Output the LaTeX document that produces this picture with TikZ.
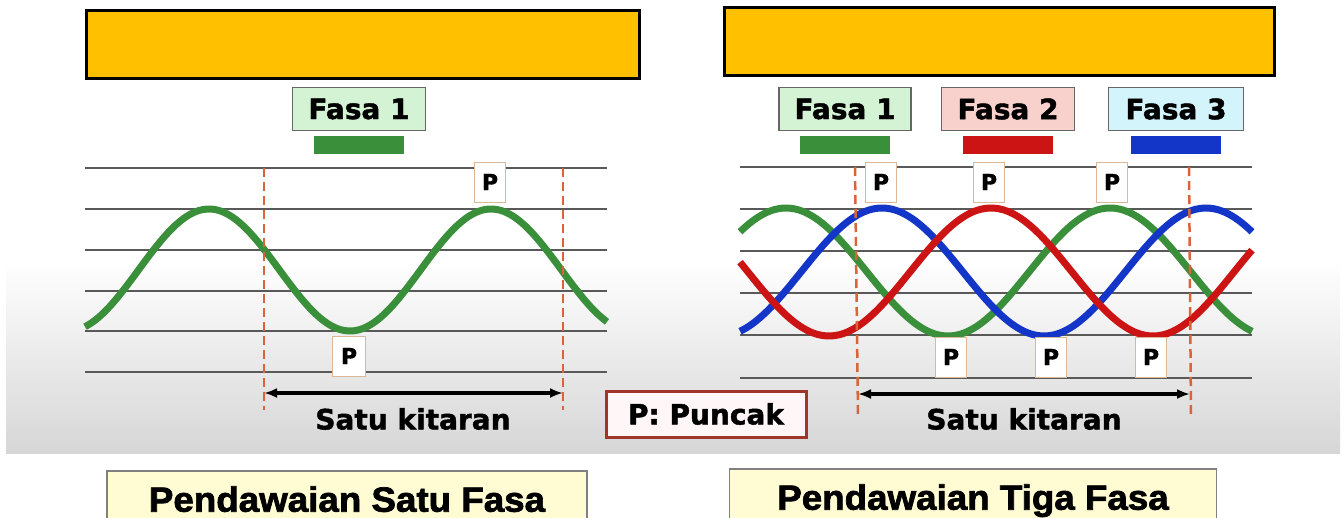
\documentclass[tikz,border=0pt]{standalone}
\usepackage{fontspec}
\setmainfont{DejaVu Sans}[BoldFeatures={FakeBold=1.6}]
\newfontfamily\labelfont{Liberation Sans}[FakeStretch=1.05, BoldFeatures={FakeBold=2}]
\usetikzlibrary{positioning,arrows.meta}

\definecolor{bannerorange}{HTML}{FFC000}
\definecolor{fasagreen}{HTML}{D4F2D4}
\definecolor{fasared}{HTML}{F8D0CC}
\definecolor{fasablue}{HTML}{D2F4FA}
\definecolor{wavegreen}{HTML}{3A8F3A}
\definecolor{wavered}{HTML}{CC1414}
\definecolor{waveblue}{HTML}{1436C8}
\definecolor{cycleorange}{HTML}{D9643A}
\definecolor{puncakred}{HTML}{A0352A}
\definecolor{labelyellow}{HTML}{FFFBD2}

\tikzset{
  banner/.style={draw=black, line width=3pt, fill=bannerorange, inner sep=0pt},
  fasabox/.style={draw=black!60, line width=1.5pt, minimum width=133pt, minimum height=43pt,
    inner sep=0pt, font=\fontsize{28}{30}\selectfont\bfseries},
  colourbar/.style={minimum width=90pt, minimum height=18pt, inner sep=0pt},
  peakbox/.style={draw=brown!55, fill=white, line width=1pt, minimum width=31pt,
    minimum height=40pt, inner sep=0pt, font=\fontsize{22}{22}\selectfont\bfseries},
  gridline/.style={black!65, line width=1.5pt},
  cycleline/.style={cycleorange, line width=2.5pt, dash pattern=on 9pt off 5pt},
  wave/.style={line width=7pt},
  cyclearrow/.style={{Latex[length=13pt,width=10pt]}-{Latex[length=13pt,width=10pt]}, line width=3.5pt},
  kitaran/.style={font=\fontsize{28}{30}\selectfont\bfseries},
  namebox/.style={draw=black!50, line width=1.5pt, fill=labelyellow, minimum height=56pt,
    inner sep=0pt, text depth=0pt, font=\labelfont\fontsize{35}{36}\selectfont\bfseries}
}

\begin{document}
\begin{tikzpicture}[x=1pt, y=-1pt]
\useasboundingbox (0,0) rectangle (1343,517);

\shade[top color=white, bottom color=black!16] (6,260) rectangle (1340,453);

\node[banner, minimum width=553pt, minimum height=68pt] (bannerL) at (363,44) {};
\node[banner, minimum width=550pt, minimum height=68pt] (bannerR) at (999,41) {};

\node[fasabox, fill=fasagreen] (fasaL) at (359,109) {Fasa 1};
\node[colourbar, fill=wavegreen, below=5pt of fasaL] (barL) {};

\node[fasabox, fill=fasagreen, minimum width=132pt] (fasa1) at (845,109) {Fasa 1};
\node[fasabox, fill=fasared] (fasa2) at (1008,109) {Fasa 2};
\node[fasabox, fill=fasablue, minimum width=135pt] (fasa3) at (1176,109) {Fasa 3};
\node[colourbar, fill=wavegreen, below=5pt of fasa1] (bar1) {};
\node[colourbar, fill=wavered, below=5pt of fasa2] (bar2) {};
\node[colourbar, fill=waveblue, below=5pt of fasa3] (bar3) {};

\foreach \y in {168,209,250,291,331,372}
  \draw[gridline] (85,\y) -- (607,\y);
\foreach \y in {167,209,251,293,335,378}
  \draw[gridline] (740,\y) -- (1252,\y);

\draw[wave, wavegreen] plot[domain=85:607, samples=120, smooth] (\x, {270-61*cos((\x-209)/282*360)});

\draw[wave, wavegreen] plot[domain=740:1252, samples=120, smooth] (\x, {272-64*cos((\x-786)/324*360)});
\draw[wave, waveblue] plot[domain=740:1252, samples=120, smooth] (\x, {272-64*cos((\x-882)/324*360)});
\draw[wave, wavered] plot[domain=740:1252, samples=120, smooth] (\x, {272-64*cos((\x-991)/324*360)});

\draw[cycleline] (264,168) -- (264,410);
\draw[cycleline] (563,168) -- (563,410);
\draw[cycleline] (855,167) -- (858,416);
\draw[cycleline] (1189,167) -- (1191,416);

\node[peakbox] (pL1) at (490,182) {P};
\node[peakbox, minimum width=33pt] (pL2) at (349,356) {P};

\node[peakbox] (pR1) at (881,182) {P};
\node[peakbox] (pR2) at (989,182) {P};
\node[peakbox] (pR3) at (1112,182) {P};
\node[peakbox] (pR4) at (951,357) {P};
\node[peakbox] (pR5) at (1051,357) {P};
\node[peakbox] (pR6) at (1151,357) {P};

\coordinate (cycL1) at (264,393);
\coordinate (cycL2) at (563,393);
\coordinate (cycR1) at (858,394);
\coordinate (cycR2) at (1190,394);
\draw[cyclearrow] (cycL1) -- (cycL2);
\draw[cyclearrow] (cycR1) -- (cycR2);

\node[kitaran] (kitL) at (413,419) {Satu kitaran};
\node[kitaran] (kitR) at (1024,419) {Satu kitaran};

\node[draw=puncakred, line width=3pt, fill=red!3, minimum width=200pt, minimum height=46pt,
  inner sep=0pt, font=\fontsize{28}{30}\selectfont\bfseries] (puncak) at (706,414) {P: Puncak};

\node[namebox, minimum width=480pt] (nameL) at (347,499) {Pendawaian Satu Fasa};
\node[namebox, minimum width=487pt] (nameR) at (973,497) {Pendawaian Tiga Fasa};
\end{tikzpicture}
\end{document}
